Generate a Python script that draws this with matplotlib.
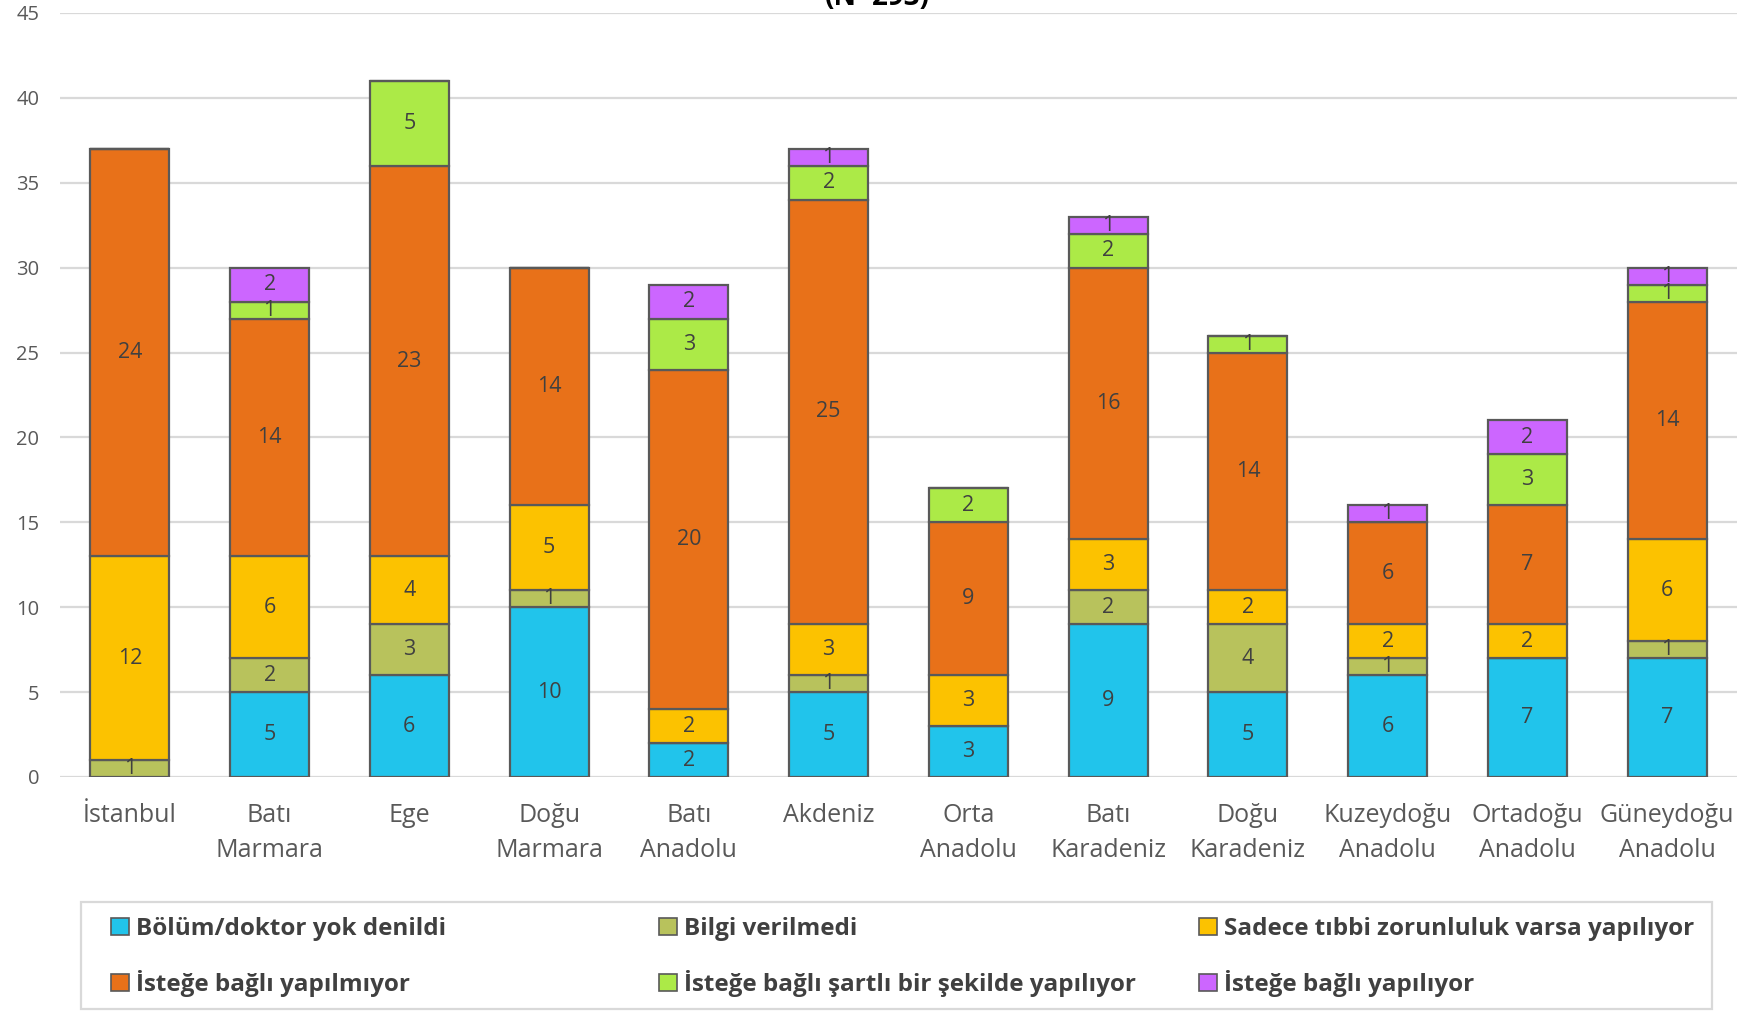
import matplotlib
matplotlib.use("Agg")
import matplotlib.pyplot as plt
import numpy as np
from matplotlib.patches import Patch, Rectangle

plt.rcParams['font.family'] = ['Open Sans', 'DejaVu Sans']

categories = ["İstanbul", "Batı\nMarmara", "Ege", "Doğu\nMarmara", "Batı\nAnadolu", "Akdeniz",
              "Orta\nAnadolu", "Batı\nKaradeniz", "Doğu\nKaradeniz", "Kuzeydoğu\nAnadolu",
              "Ortadoğu\nAnadolu", "Güneydoğu\nAnadolu"]
series_names = ["Bölüm/doktor yok denildi", "Bilgi verilmedi", "Sadece tıbbi zorunluluk varsa yapılıyor",
                "İsteğe bağlı yapılmıyor", "İsteğe bağlı şartlı bir şekilde yapılıyor", "İsteğe bağlı yapılıyor"]
bolum =   [0, 5, 6, 10, 2, 5, 3, 9, 5, 6, 7, 7]
bilgi =   [1, 2, 3, 1, 0, 1, 0, 2, 4, 1, 0, 1]
sadece =  [12, 6, 4, 5, 2, 3, 3, 3, 2, 2, 2, 6]
yapilmiyor = [24, 14, 23, 14, 20, 25, 9, 16, 14, 6, 7, 14]
sartli =  [0, 1, 5, 0, 3, 2, 2, 2, 1, 0, 3, 1]
yapiliyor = [0, 2, 0, 0, 2, 1, 0, 1, 0, 1, 2, 1]
series = [bolum, bilgi, sadece, yapilmiyor, sartli, yapiliyor]
colors = ["#21C4EB", "#B8C25C", "#FCC200", "#E87119", "#ACEA47", "#CC66FF"]
title = "(N=293)"

W, H = 1755, 1011
fig = plt.figure(figsize=(W/100, H/100), dpi=100)
ax = fig.add_axes([60/W, 1-777/H, (1737-60)/W, (777-13)/H])

x = np.arange(len(categories))
bottom = np.zeros(len(categories))
for vals, col in zip(series, colors):
    v = np.array(vals, dtype=float)
    ax.bar(x, v, bottom=bottom, width=0.565, color=col, edgecolor="#595959",
           linewidth=1.6, zorder=3)
    for xi, b, val in zip(x, bottom, v):
        if val > 0:
            ax.text(xi, b + val/2, f"{int(val)}", ha="center", va="center",
                    fontsize=15.5, color="#404040", zorder=4)
    bottom += v

ax.set_xlim(-0.5, len(categories)-0.5)
ax.set_ylim(0, 45)
ax.set_yticks(np.arange(0, 46, 5))
ax.grid(axis="y", color="#D9D9D9", linewidth=1.6, zorder=0)
ax.set_axisbelow(True)
for s in ax.spines.values():
    s.set_visible(False)
ax.tick_params(axis="both", length=0)
ax.tick_params(axis="y", labelsize=14.5, labelcolor="#595959", pad=15)
ax.set_xticks(x)
ax.set_xticklabels(categories, fontsize=18, color="#595959", linespacing=1.5)
ax.tick_params(axis="x", pad=19)

fig.text(0.5, 1-5/H, title, ha="center", va="baseline", fontsize=20, fontweight="bold", color="#000000")

# legend frame
fig.patches.append(Rectangle((81/W, 1-1009/H), (1712-81)/W, (1009-902)/H, transform=fig.transFigure,
                             facecolor="white", edgecolor="#D9D9D9", linewidth=1.6, zorder=1))
handles = [Patch(facecolor=c, edgecolor="#595959", linewidth=1.2) for c in colors]
col_x = [111, 659, 1199]
for ci in range(3):
    idx = [ci, ci + 3]
    leg = fig.legend([handles[i] for i in idx], [series_names[i] for i in idx],
                     loc="upper left", bbox_to_anchor=(col_x[ci]/W, 1-917/H),
                     frameon=False, prop={"size": 17.5, "weight": "bold"},
                     handlelength=0.72, handleheight=0.72, handletextpad=0.3,
                     borderpad=0, borderaxespad=0, labelspacing=1.2)
    for t in leg.get_texts():
        t.set_color("#404040")

fig.savefig("out.png", dpi=100)
